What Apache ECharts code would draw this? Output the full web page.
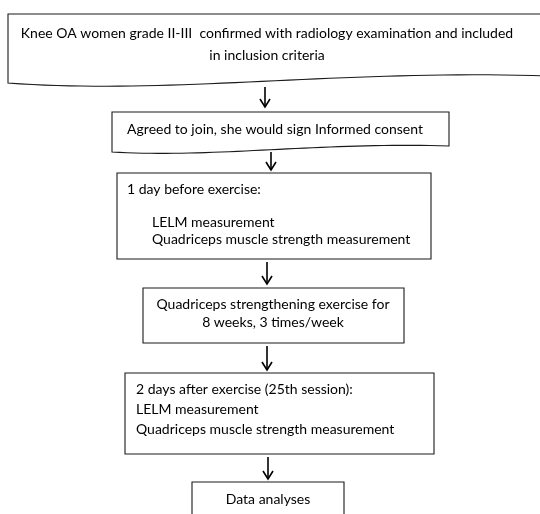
<!DOCTYPE html>
<html><head><meta charset="utf-8">
<script src="https://cdn.jsdelivr.net/npm/echarts@6/dist/echarts.min.js"></script>
<style>html,body{margin:0;padding:0;background:#fff}#c{width:540px;height:514px}</style>
</head><body><div id="c"></div>
<script>
// ---- content: text of each step ----
const step1 = ["Knee OA women grade II-III  confirmed with radiology examination and included", "in inclusion criteria"];
const step2 = ["Agreed to join, she would sign Informed consent"];
const step3 = ["1 day before exercise:", "LELM measurement", "Quadriceps muscle strength measurement"];
const step4 = ["Quadriceps strengthening exercise for", "8 weeks, 3 times/week"];
const step5 = ["2 days after exercise (25th session):", "LELM measurement", "Quadriceps muscle strength measurement"];
const step6 = ["Data analyses"];
const steps = [step1, step2, step3, step4, step5, step6];

// ---- layout (canvas units of the hidden 540 x 514 value axes) ----
const boxLayout = [
  {x0: 8,   y0: 14,  x1: 548, y1: 83,  wave: [7, 12, -14]},
  {x0: 112, y0: 112, x1: 449, y1: 152, wave: [6, 6, -10]},
  {x0: 117, y0: 173, x1: 431, y1: 259},
  {x0: 143, y0: 288, x1: 404, y1: 343},
  {x0: 125, y0: 373, x1: 434, y1: 454},
  {x0: 192, y0: 482, x1: 344, y1: 530}
];
const lineLayout = [
  [{x: 267, y: 33, a: 'center'}, {x: 267, y: 55, a: 'center'}],
  [{x: 275, y: 129, a: 'center'}],
  [{x: 127, y: 189, a: 'left'}, {x: 152, y: 222, a: 'left'}, {x: 152, y: 239, a: 'left'}],
  [{x: 273, y: 304, a: 'center'}, {x: 273, y: 322, a: 'center'}],
  [{x: 136, y: 389, a: 'left'}, {x: 136, y: 409, a: 'left'}, {x: 136, y: 429, a: 'left'}],
  [{x: 268, y: 499, a: 'center'}]
];
const arrowLayout = [[265, 87, 107], [271, 152, 170], [267, 262, 284], [267, 346, 370], [268, 457, 479]];

const FONT = '14px Lato';

function bez(p0, p1, p2, p3, t) {
  const u = 1 - t;
  return u*u*u*p0 + 3*u*u*t*p1 + 3*u*t*t*p2 + t*t*t*p3;
}

const chart = echarts.init(document.getElementById('c'), null, {renderer: 'canvas'});
chart.setOption({
  animation: false,
  grid: {left: 0, right: 0, top: 0, bottom: 0},
  xAxis: {type: 'value', min: 0, max: 540, show: false},
  yAxis: {type: 'value', min: 0, max: 514, inverse: true, show: false},
  series: [
    {
      type: 'custom',
      clip: false,
      data: steps.map((s, i) => i),
      renderItem: function (params, api) {
        const i = api.value(0);
        const b = boxLayout[i];
        const children = [];
        let pts;
        if (b.wave) {
          const w = b.x1 - b.x0;
          const [dr, down, up] = b.wave;
          pts = [[b.x0, b.y0], [b.x1, b.y0], [b.x1, b.y1 - dr]];
          for (let k = 1; k <= 40; k++) {
            const t = k / 40;
            const x = bez(b.x1, b.x0 + 0.62 * w, b.x0 + 0.3 * w, b.x0, t);
            const y = bez(b.y1 - dr, b.y1 + up, b.y1 + down, b.y1, t);
            pts.push([x, y]);
          }
        } else {
          pts = [[b.x0, b.y0], [b.x1, b.y0], [b.x1, b.y1], [b.x0, b.y1]];
        }
        children.push({
          type: 'polygon',
          shape: {points: pts.map(p => api.coord(p))},
          style: {fill: '#fff', stroke: '#1a1a1a', lineWidth: 1.1}
        });
        steps[i].forEach((txt, j) => {
          const L = lineLayout[i][j];
          const c = api.coord([L.x, L.y]);
          children.push({
            type: 'text',
            x: c[0], y: c[1],
            style: {text: txt, font: FONT, fill: '#000', align: L.a, verticalAlign: 'middle'}
          });
        });
        return {type: 'group', children: children};
      }
    },
    {
      type: 'custom',
      clip: false,
      data: arrowLayout.map((a, i) => i),
      renderItem: function (params, api) {
        const a = arrowLayout[api.value(0)];
        const top = api.coord([a[0], a[1]]);
        const tip = api.coord([a[0], a[2]]);
        return {
          type: 'group',
          children: [
            {type: 'line', shape: {x1: top[0], y1: top[1], x2: tip[0], y2: tip[1]},
             style: {stroke: '#000', lineWidth: 1.6}},
            {type: 'polyline', shape: {points: [[tip[0] - 5, tip[1] - 8], [tip[0], tip[1]], [tip[0] + 5, tip[1] - 8]]},
             style: {stroke: '#000', lineWidth: 1.6, fill: null}}
          ]
        };
      }
    }
  ]
});
</script>
</body></html>
